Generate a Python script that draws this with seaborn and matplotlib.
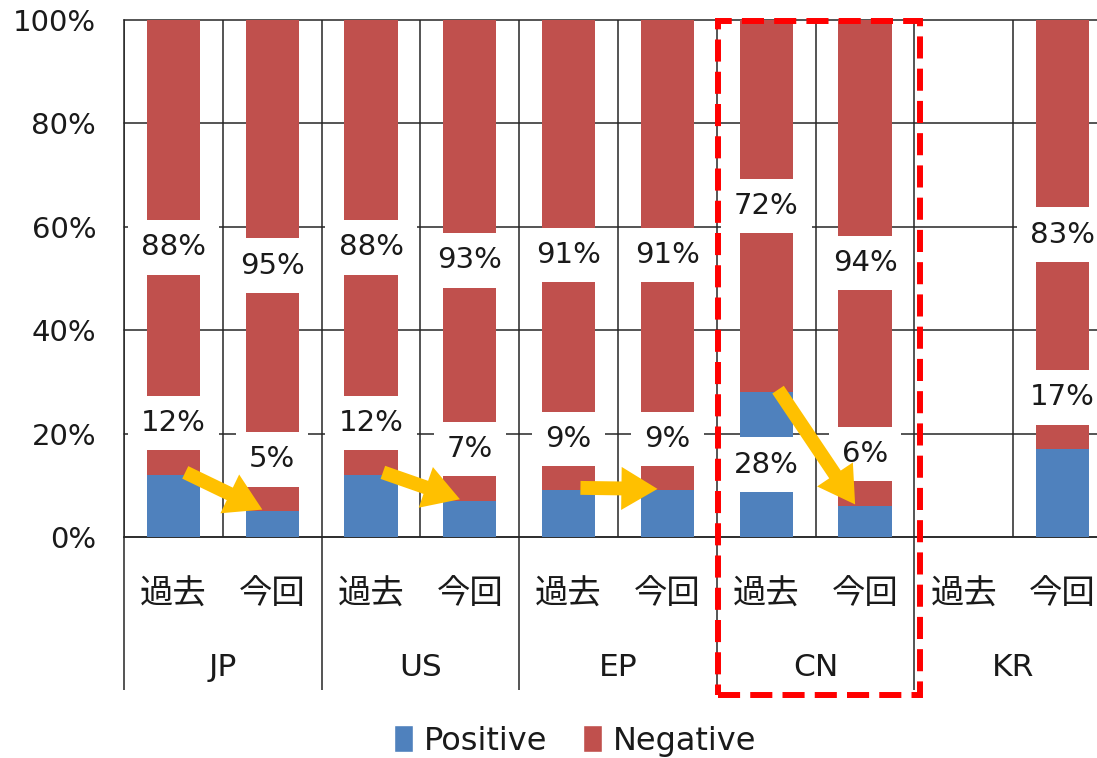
import numpy as np
import pandas as pd
import matplotlib
matplotlib.use("Agg")
import matplotlib.pyplot as plt
import seaborn as sns
from matplotlib.patches import Patch, Rectangle

# Data: share of positive / negative outcomes per office, past vs. current
regions = ["JP", "US", "EP", "CN", "KR"]
periods = ["過去", "今回"]
positive = [12, 5, 12, 7, 9, 9, 28, 6, np.nan, 17]
negative = [88, 95, 88, 93, 91, 91, 72, 94, np.nan, 83]
y_ticks = [0, 20, 40, 60, 80, 100]
legend_labels = ["Positive", "Negative"]
trend_regions = ["JP", "US", "EP", "CN"]
highlight_region = "CN"

BLUE = "#4F81BD"
RED = "#C0504D"
GOLD = "#FFC000"
GRID = "#262626"
TEXT = "#1A1A1A"

slots = [f"{r}|{p}" for r in regions for p in periods]
df = pd.DataFrame({
    "slot": slots,
    "region": np.repeat(regions, len(periods)),
    "period": periods * len(regions),
    "positive": positive,
    "negative": negative,
})
df["total"] = df["positive"] + df["negative"]

sns.set_style("white")
plt.rcParams["font.family"] = ["DejaVu Sans", "Noto Sans CJK JP"]

fig = plt.figure(figsize=(10.97, 7.58), dpi=100)
ax = fig.add_axes([124 / 1097, 221 / 758, 988 / 1097, 517 / 758])

# stacked bars: negative on top of positive (total drawn first, positive over it)
sns.barplot(data=df, x="slot", y="total", order=slots, color=RED, width=0.54,
            saturation=1, errorbar=None, linewidth=0, ax=ax, zorder=2)
sns.barplot(data=df, x="slot", y="positive", order=slots, color=BLUE, width=0.54,
            saturation=1, errorbar=None, linewidth=0, ax=ax, zorder=3)

ax.set_xlim(-0.5, len(slots) - 0.5)
ax.set_ylim(0, 100)
ax.set_xlabel("")
ax.set_ylabel("")

# gridlines
ax.set_yticks(y_ticks, labels=[f"{t}%" for t in y_ticks])
ax.set_xticks(np.arange(-0.5, len(slots), 1), minor=True)
ax.set_xticks(range(len(slots)), labels=df["period"].tolist())
ax.grid(False)
ax.grid(axis="y", which="major", color=GRID, lw=1.1)
ax.grid(axis="x", which="minor", color=GRID, lw=1.1)
ax.set_axisbelow(True)
for gl in ax.get_ygridlines():
    gl.set_clip_on(False)
for s in ax.spines.values():
    s.set_visible(False)
for side in ("left", "bottom"):
    ax.spines[side].set_visible(True)
    ax.spines[side].set_color(GRID)
    ax.spines[side].set_linewidth(1.1)

ax.tick_params(axis="y", length=0, pad=20, labelsize=21, labelcolor=TEXT)
ax.tick_params(axis="x", which="both", length=0, pad=29, labelsize=24, labelcolor=TEXT)

# value labels with white boxes
for i, row in df.iterrows():
    if np.isnan(row["positive"]):
        continue
    p, n = row["positive"], row["negative"]
    y_pos = p / 2 if p >= 20 else p + 10
    y_neg = p + n / 2
    for y, v in ((y_pos, p), (y_neg, n)):
        ax.text(i, y, f"{v:.0f}%", ha="center", va="center", fontsize=21,
                color=TEXT, zorder=4,
                bbox=dict(boxstyle="square,pad=0.45", fc="white", ec="none"))

# region labels and separators of the grouped category axis
xt = ax.get_xaxis_transform()
for g, r in enumerate(regions):
    ax.text(g * len(periods) + 0.5, -0.253, r, transform=xt, ha="center",
            va="center", fontsize=22.5, color=TEXT)
ax.vlines(np.arange(-0.5, len(slots), len(periods)), -0.296, 0, transform=xt,
          clip_on=False, color=GRID, lw=1.1)

# trend arrows from past to current positive share
for r in trend_regions:
    g = regions.index(r)
    i0, i1 = g * 2, g * 2 + 1
    ax.annotate("", xy=(i1 - 0.1, positive[i1] + 0.3),
                xytext=(i0 + 0.12, positive[i0] + 0.5),
                arrowprops=dict(arrowstyle="simple,head_length=2.6,head_width=3.1,tail_width=1.0",
                                mutation_scale=10, color=GOLD, lw=0,
                                shrinkA=0, shrinkB=0),
                zorder=5)

# dashed highlight box around one region
h = regions.index(highlight_region) * 2
ax.add_patch(Rectangle((h - 0.49, -0.306), 2.05, 1.304, transform=xt,
                       fill=False, ec="#FF0000", lw=4.3, ls=(0, (3.7, 1.7)),
                       joinstyle="miter", clip_on=False, zorder=6))

fig.legend(handles=[Patch(fc=BLUE), Patch(fc=RED)], labels=legend_labels,
           loc="center", bbox_to_anchor=(575 / 1097, 17 / 758), ncol=2,
           frameon=False, fontsize=23, handlelength=0.6, handleheight=0.9,
           handletextpad=0.35, columnspacing=1.1, labelcolor=TEXT)

fig.savefig("out.png", dpi=100)
